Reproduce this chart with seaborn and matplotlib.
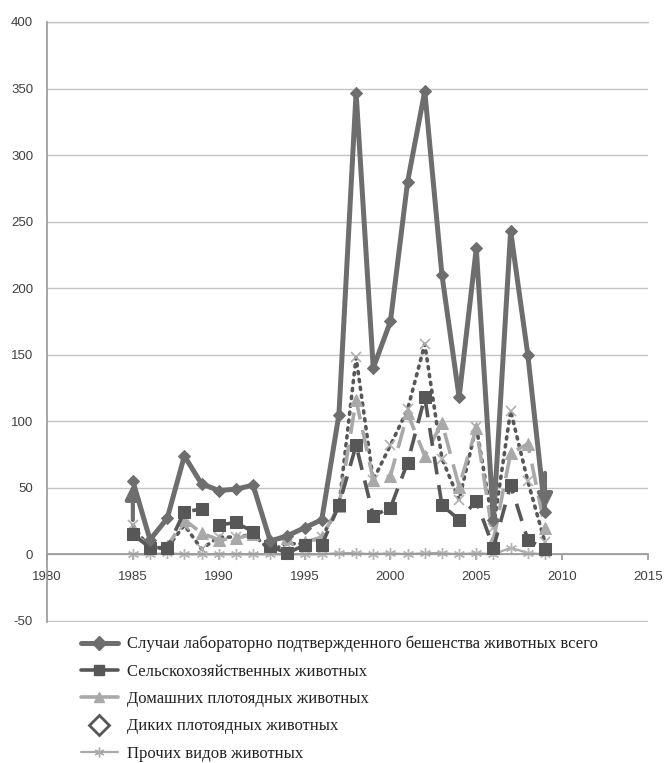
import matplotlib
matplotlib.use("Agg")
import matplotlib.pyplot as plt
import seaborn as sns
import pandas as pd
from matplotlib.lines import Line2D

years = list(range(1985, 2010))
total = [55, 11, 27, 74, 53, 48, 49, 52, 10, 14, 20, 26, 105, 347, 140, 175, 280, 348, 210, 118, 230, 26, 243, 150, 32]
farm = [15, 5, 5, 32, 34, 22, 24, 17, 6, 1, 7, 7, 37, 82, 29, 35, 69, 118, 37, 26, 40, 5, 52, 11, 4]
domestic = [16, 6, 6, 26, 16, 11, 12, 15, 11, 12, 9, 13, 36, 116, 56, 59, 106, 74, 99, 51, 95, 11, 76, 83, 20]
wild = [22, 4, 5, 22, 4, 13, 13, 15, 3, 8, 8, 13, 36, 148, 56, 82, 109, 158, 72, 41, 96, 20, 108, 55, 9]
other = [0, 0, 1, 0, 0, 0, 0, 0, 0, 0, 0, 0, 1, 1, 0, 1, 0, 1, 1, 0, 1, 0, 5, 1, 0]

labels = [
    "Случаи лабораторно подтвержденного бешенства животных всего",
    "Сельскохозяйственных животных",
    "Домашних плотоядных животных",
    "Диких плотоядных животных",
    "Прочих видов животных",
]
y_ticks = list(range(-50, 401, 50))
x_ticks = list(range(1980, 2016, 5))

df = pd.DataFrame({"year": years, "total": total, "farm": farm,
                   "domestic": domestic, "wild": wild, "other": other})

sns.set_theme(style="white")
plt.rcParams["font.family"] = ["Liberation Sans", "DejaVu Sans"]
plt.rcParams["axes.unicode_minus"] = False

fig = plt.figure(figsize=(6.65, 7.63), dpi=100)
ax = fig.add_axes([47/665, 1-622/763, (648-47)/665, (622-22)/763])

dark = "#6e6e6e"
darker = "#575757"
light = "#a9a9a9"

sns.lineplot(data=df, x="year", y="other", ax=ax, color=light, linewidth=1.6,
             marker=(6, 2, 0), markersize=8, markeredgecolor="#b5b5b5", markeredgewidth=1.0, zorder=2)
sns.lineplot(data=df, x="year", y="wild", ax=ax, color=darker, linewidth=2.6,
             linestyle=(0, (0.6, 1.6)), dash_capstyle="round", marker="x", markersize=7,
             markeredgecolor="#b0b0b0", markeredgewidth=1.2, zorder=3)
sns.lineplot(data=df, x="year", y="domestic", ax=ax, color=light, linewidth=2.6,
             linestyle=(0, (6, 3)), marker="^", markersize=8, markeredgecolor=light, zorder=4)
sns.lineplot(data=df, x="year", y="farm", ax=ax, color=darker, linewidth=2.6,
             linestyle=(0, (5, 3)), marker="s", markersize=8, markeredgecolor=darker, zorder=5)
sns.lineplot(data=df, x="year", y="total", ax=ax, color=dark, linewidth=3.6,
             marker="D", markersize=6, markeredgecolor=dark, zorder=6)

# arrow heads at both ends of the total series
ax.annotate("", xy=(years[0], total[0]), xytext=(0, -30), textcoords="offset points",
            arrowprops=dict(arrowstyle="-|>", color=dark, lw=3, mutation_scale=22), zorder=7)
ax.annotate("", xy=(years[-1], total[-1]), xytext=(0, 30), textcoords="offset points",
            arrowprops=dict(arrowstyle="-|>", color=dark, lw=3, mutation_scale=22), zorder=7)

ax.set_xlim(1980, 2015)
ax.set_ylim(-50.8, 400)
ax.set_yticks(y_ticks)
ax.set_xticks(x_ticks)
ax.set_xlabel("")
ax.set_ylabel("")
ax.grid(axis="y", color="#c4c4c4", linewidth=1.0)
ax.axhline(y_ticks[-1], color="#c4c4c4", linewidth=1.0, clip_on=False, zorder=0)
ax.set_axisbelow(True)
for s in ["top", "right"]:
    ax.spines[s].set_visible(False)
ax.spines["bottom"].set_position(("data", 0))
ax.spines["bottom"].set_color("#9a9a9a")
ax.spines["left"].set_color("#9a9a9a")
ax.tick_params(axis="x", direction="out", length=4, color="#9a9a9a", labelsize=9.5, labelcolor="#404040", pad=8)
ax.tick_params(axis="y", length=0, labelsize=9.5, labelcolor="#404040", pad=10)
ax.xaxis.set_ticks_position("bottom")

handles = [
    Line2D([], [], color=dark, lw=3.6, marker="D", markersize=7),
    Line2D([], [], color=darker, lw=2.6, marker="s", markersize=7),
    Line2D([], [], color=light, lw=2.6, marker="^", markersize=7),
    Line2D([], [], color=darker, lw=0, marker="D", markersize=10, markerfacecolor="white",
           markeredgecolor=darker, markeredgewidth=2),
    Line2D([], [], color=light, lw=1.6, marker=(6, 2, 0), markersize=7),
]
leg = fig.legend(handles, labels, loc="upper left", bbox_to_anchor=(66/665, 1-621/763),
                 frameon=False, handlelength=2.2, labelspacing=0.68, handletextpad=0.55,
                 prop={"family": "Liberation Serif", "size": 12})
for t in leg.get_texts():
    t.set_color("#222222")

fig.savefig("out.png", dpi=100, facecolor="white")
